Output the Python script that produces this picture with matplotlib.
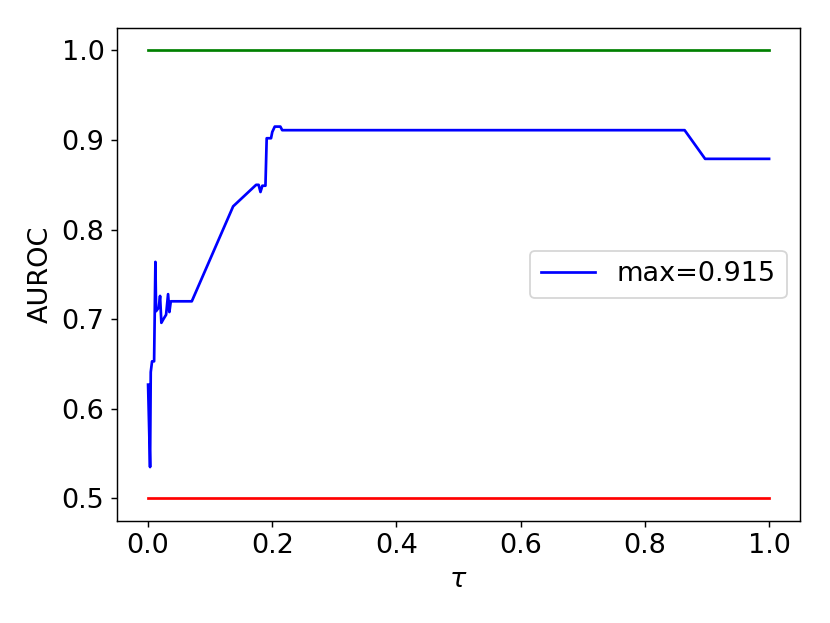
import matplotlib
matplotlib.use('Agg')
import matplotlib.pyplot as plt

# AUROC vs tau
tau = [0.0, 0.0032, 0.0043, 0.0064, 0.0097, 0.0118, 0.0129, 0.0172, 0.0193,
       0.0214, 0.0246, 0.029, 0.0322, 0.0343, 0.0366, 0.0704, 0.137, 0.174,
       0.178, 0.181, 0.184, 0.189, 0.191, 0.198, 0.200, 0.204, 0.213, 0.216,
       0.864, 0.897, 1.0]
auroc = [0.627, 0.535, 0.641, 0.653, 0.653, 0.764, 0.709, 0.713, 0.726,
         0.696, 0.700, 0.705, 0.728, 0.708, 0.720, 0.720, 0.826, 0.850,
         0.850, 0.842, 0.849, 0.849, 0.902, 0.902, 0.909, 0.915, 0.915, 0.911,
         0.911, 0.879, 0.879]
best = 0.915

fig = plt.figure(figsize=(830 / 130, 623 / 130), dpi=130)
ax = fig.add_axes([0.141, 0.164, 0.823, 0.791])

ax.plot([0, 1], [1.0, 1.0], color='green')
ax.plot([0, 1], [0.5, 0.5], color='red')
ax.plot(tau, auroc, color='blue', label='max=%.3f' % best)

ax.set_xlabel(r'$\tau$', fontsize=15)
ax.set_ylabel('AUROC', fontsize=15)
ax.tick_params(labelsize=15)
ax.legend(loc='center right', fontsize=15)

fig.savefig('out.png', dpi=130)
